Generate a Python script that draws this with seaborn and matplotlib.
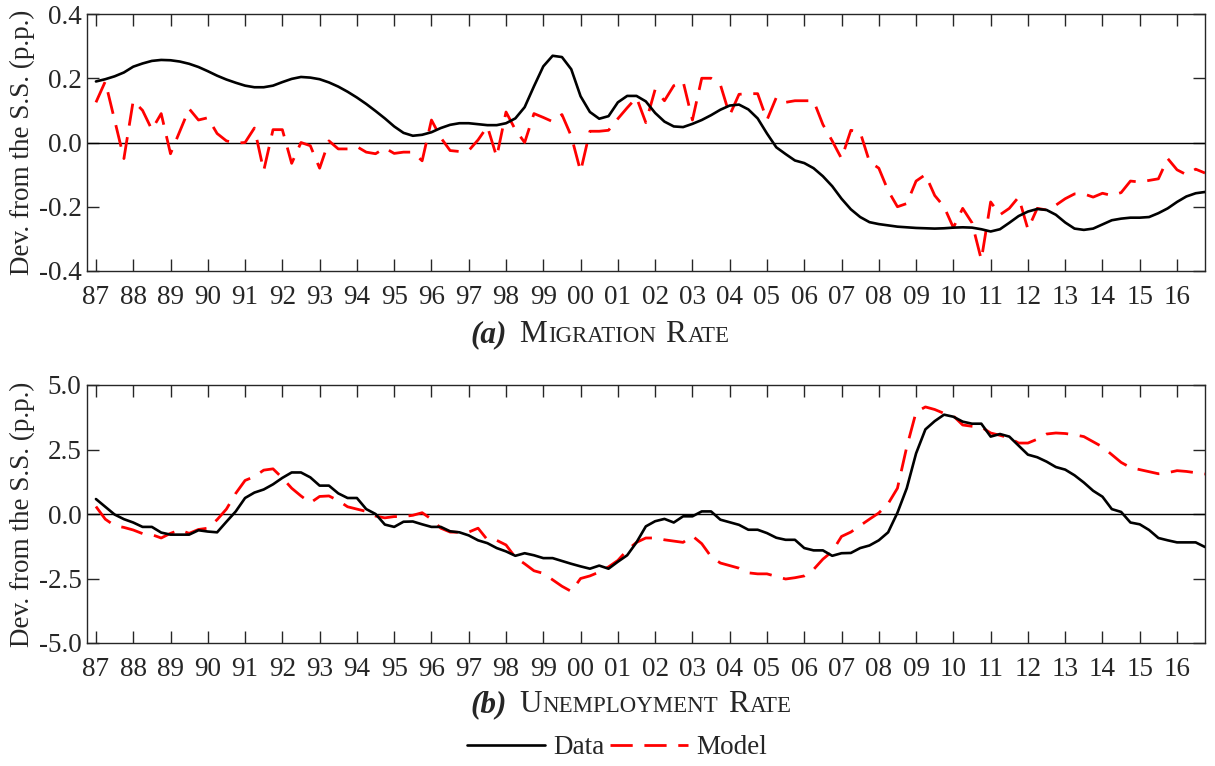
import numpy as np
import pandas as pd
import matplotlib
matplotlib.use("Agg")
import matplotlib.pyplot as plt
import seaborn as sns

# ---------------- data (quarterly, 1987Q1 - 2016Q4) ----------------
start_year = 1987
year_ticks = list(range(1987, 2017))
year_labels = [f"{y % 100:02d}" for y in year_ticks]

mig_yticks = [-0.4, -0.2, 0.0, 0.2, 0.4]
mig_yticklabels = ["-0.4", "-0.2", "0.0", "0.2", "0.4"]
unemp_yticks = [-5.0, -2.5, 0.0, 2.5, 5.0]
unemp_yticklabels = ["-5.0", "-2.5", "0.0", "2.5", "5.0"]

mig_data = [
    0.190, 0.197, 0.206, 0.218,
    0.236, 0.246, 0.254, 0.257,
    0.256, 0.252, 0.245, 0.235,
    0.222, 0.208, 0.196, 0.186,
    0.177, 0.172, 0.172, 0.177,
    0.188, 0.198, 0.204, 0.202,
    0.197, 0.187, 0.174, 0.158,
    0.140, 0.120, 0.098, 0.075,
    0.050, 0.030, 0.021, 0.024,
    0.032, 0.045, 0.055, 0.060,
    0.060, 0.057, 0.054, 0.054,
    0.060, 0.075, 0.110, 0.175,
    0.237, 0.270, 0.266, 0.228,
    0.144, 0.095, 0.074, 0.082,
    0.125, 0.145, 0.145, 0.128,
    0.092, 0.065, 0.050, 0.048,
    0.058, 0.070, 0.085, 0.102,
    0.115, 0.118, 0.103, 0.075,
    0.028, -0.015, -0.036, -0.056,
    -0.064, -0.080, -0.105, -0.136,
    -0.175, -0.208, -0.232, -0.248,
    -0.254, -0.258, -0.262, -0.264,
    -0.266, -0.267, -0.268, -0.267,
    -0.265, -0.264, -0.265, -0.270,
    -0.277, -0.270, -0.250, -0.229,
    -0.215, -0.207, -0.210, -0.225,
    -0.249, -0.268, -0.272, -0.268,
    -0.255, -0.242, -0.237, -0.234,
    -0.234, -0.232, -0.220, -0.205,
    -0.185, -0.168, -0.158, -0.154,
]

mig_model = [
    0.125, 0.190, 0.070, -0.050,
    0.130, 0.100, 0.040, 0.090,
    -0.035, 0.035, 0.105, 0.070,
    0.077, 0.028, 0.005, -0.002,
    0.000, 0.045, -0.088, 0.040,
    0.040, -0.065, 0.000, -0.010,
    -0.080, 0.005, -0.020, -0.020,
    -0.013, -0.030, -0.035, -0.017,
    -0.034, -0.030, -0.030, -0.057,
    0.070, 0.015, -0.025, -0.028,
    -0.025, 0.008, 0.050, -0.045,
    0.095, 0.040, 0.000, 0.090,
    0.078, 0.065, 0.087, 0.020,
    -0.090, 0.035, 0.035, 0.038,
    0.074, 0.108, 0.140, 0.062,
    0.165, 0.130, 0.177, 0.190,
    0.070, 0.200, 0.200, 0.180,
    0.085, 0.150, 0.152, 0.152,
    0.070, 0.140, 0.125, 0.130,
    0.130, 0.130, 0.056, 0.005,
    -0.050, 0.038, 0.032, -0.060,
    -0.080, -0.150, -0.200, -0.190,
    -0.120, -0.100, -0.165, -0.200,
    -0.265, -0.205, -0.250, -0.365,
    -0.185, -0.225, -0.205, -0.170,
    -0.270, -0.205, -0.210, -0.195,
    -0.175, -0.160, -0.160, -0.170,
    -0.158, -0.165, -0.156, -0.120,
    -0.123, -0.118, -0.113, -0.050,
    -0.085, -0.100, -0.083, -0.095,
]

unemp_data = [
    0.58, 0.28, -0.02, -0.20,
    -0.33, -0.50, -0.50, -0.72,
    -0.80, -0.80, -0.80, -0.63,
    -0.68, -0.71, -0.30, 0.10,
    0.62, 0.83, 0.95, 1.15,
    1.40, 1.61, 1.61, 1.42,
    1.10, 1.10, 0.80, 0.62,
    0.62, 0.19, 0.00, -0.41,
    -0.50, -0.30, -0.29, -0.40,
    -0.50, -0.50, -0.67, -0.71,
    -0.83, -1.02, -1.13, -1.32,
    -1.45, -1.62, -1.52, -1.60,
    -1.71, -1.71, -1.82, -1.93,
    -2.03, -2.12, -2.00, -2.12,
    -1.85, -1.60, -1.10, -0.48,
    -0.28, -0.19, -0.33, -0.09,
    -0.09, 0.10, 0.10, -0.22,
    -0.32, -0.42, -0.61, -0.61,
    -0.74, -0.92, -1.00, -1.00,
    -1.32, -1.41, -1.41, -1.62,
    -1.52, -1.51, -1.32, -1.22,
    -1.02, -0.71, 0.05, 1.00,
    2.35, 3.28, 3.60, 3.85,
    3.77, 3.58, 3.50, 3.50,
    3.00, 3.10, 3.00, 2.65,
    2.30, 2.20, 2.03, 1.82,
    1.72, 1.50, 1.22, 0.90,
    0.67, 0.19, 0.08, -0.33,
    -0.40, -0.62, -0.93, -1.02,
    -1.10, -1.10, -1.10, -1.28,
]

unemp_model = [
    0.29, -0.20, -0.45, -0.52,
    -0.62, -0.76, -0.80, -0.93,
    -0.75, -0.62, -0.75, -0.60,
    -0.55, -0.22, 0.19, 0.80,
    1.30, 1.45, 1.70, 1.75,
    1.40, 1.00, 0.70, 0.43,
    0.68, 0.70, 0.52, 0.28,
    0.19, 0.10, -0.08, -0.15,
    -0.10, -0.10, -0.05, 0.05,
    -0.20, -0.55, -0.70, -0.71,
    -0.70, -0.55, -1.00, -1.02,
    -1.20, -1.68, -1.93, -2.20,
    -2.30, -2.55, -2.80, -3.00,
    -2.50, -2.40, -2.25, -2.05,
    -1.80, -1.40, -1.10, -0.93,
    -0.93, -1.00, -1.05, -1.10,
    -0.85, -1.15, -1.65, -1.90,
    -2.00, -2.10, -2.28, -2.32,
    -2.32, -2.42, -2.52, -2.47,
    -2.40, -2.15, -1.75, -1.45,
    -0.87, -0.70, -0.45, -0.20,
    0.04, 0.40, 1.00, 2.60,
    3.95, 4.15, 4.05, 3.90,
    3.80, 3.45, 3.40, 3.37,
    3.14, 3.05, 2.95, 2.75,
    2.75, 2.90, 3.10, 3.14,
    3.12, 3.07, 3.00, 2.80,
    2.60, 2.30, 2.00, 1.80,
    1.72, 1.64, 1.56, 1.60,
    1.68, 1.65, 1.60, 1.55,
]

series_names = ["Data", "Model"]
series_colors = {"Data": "black", "Model": "#ff0000"}

# ---------------- style ----------------
sns.set_theme(style="ticks")
plt.rcParams["font.family"] = ["Liberation Serif", "DejaVu Serif"]

FS = 19.5
SPINE = "#262626"

fig = plt.figure(figsize=(12.15, 7.66), dpi=100)
W, H = 1215.0, 766.0


def fig_axes(left, top, right, bottom):
    return fig.add_axes([left / W, 1 - bottom / H, (right - left) / W, (bottom - top) / H])


ax_a = fig_axes(87, 14, 1205, 271)
ax_b = fig_axes(87, 385, 1205, 643)

quarters = start_year + np.arange(len(mig_data)) / 4.0

dash_pattern = (0, (8.0, 4.2))


def draw_panel(ax, data, model, yticks, yticklabels):
    df = pd.DataFrame({"t": quarters, "Data": data, "Model": model})
    ax.axhline(0, color="black", lw=1.0, zorder=1)
    sns.lineplot(data=df, x="t", y="Data", ax=ax, color=series_colors["Data"],
                 lw=1.9, estimator=None, sort=False, zorder=3)
    sns.lineplot(data=df, x="t", y="Model", ax=ax, color=series_colors["Model"],
                 lw=2.0, estimator=None, sort=False, linestyle=dash_pattern, zorder=2)
    ax.set_xlim(1986.76, quarters[-1])
    ax.set_ylim(yticks[0], yticks[-1])
    ax.set_xticks(year_ticks)
    ax.set_xticklabels(year_labels)
    ax.set_yticks(yticks)
    ax.set_yticklabels(yticklabels)
    ax.set_xlabel("")
    ax.set_ylabel("Dev. from the S.S. (p.p.)", fontsize=FS, va="bottom")
    ax.yaxis.set_label_coords(-0.0465, 0.5)
    ax.tick_params(axis="both", which="major", direction="in", length=8.6, width=1.0,
                   color=SPINE, labelsize=FS, top=True, right=True, pad=4)
    ax.tick_params(axis="x", pad=10)
    for s in ax.spines.values():
        s.set_visible(True)
        s.set_color(SPINE)
        s.set_linewidth(1.0)
    if ax.get_legend() is not None:
        ax.get_legend().remove()


draw_panel(ax_a, mig_data, mig_model, mig_yticks, mig_yticklabels)
draw_panel(ax_b, unemp_data, unemp_model, unemp_yticks, unemp_yticklabels)


# ---------------- captions with small caps ----------------
def caption(label, words, x_px, base_px, big=22.5, small=16.5):
    y = 1 - base_px / H
    t = fig.text(x_px / W, y, label, fontsize=big, fontweight="bold",
                 fontstyle="italic", ha="left", va="baseline")
    prev = t
    for k, w in enumerate(words):
        gap = 9 if k == 0 else 7
        first = ax_b.annotate(w[0], xy=(1, y), xycoords=(prev, "figure fraction"),
                              xytext=(gap, 0), textcoords="offset points",
                              fontsize=big, ha="left", va="baseline", annotation_clip=False)
        rest = ax_b.annotate(w[1:].upper(), xy=(1, y), xycoords=(first, "figure fraction"),
                             xytext=(0.8, 0), textcoords="offset points",
                             fontsize=small, ha="left", va="baseline", annotation_clip=False)
        prev = rest


caption("(a)", ["Migration", "Rate"], 470, 342)
caption("(b)", ["Unemployment", "Rate"], 470, 712)

# ---------------- legend ----------------
handles = [
    plt.Line2D([], [], color=series_colors["Data"], lw=1.9),
    plt.Line2D([], [], color=series_colors["Model"], lw=2.0, linestyle=dash_pattern),
]
fig.legend(handles, series_names, loc="center", bbox_to_anchor=(617 / W, 1 - 748 / H),
           ncol=2, frameon=False, fontsize=FS, handlelength=2.9, handletextpad=0.3,
           columnspacing=0.2, borderpad=0.0)

fig.savefig("out.png", dpi=100)
